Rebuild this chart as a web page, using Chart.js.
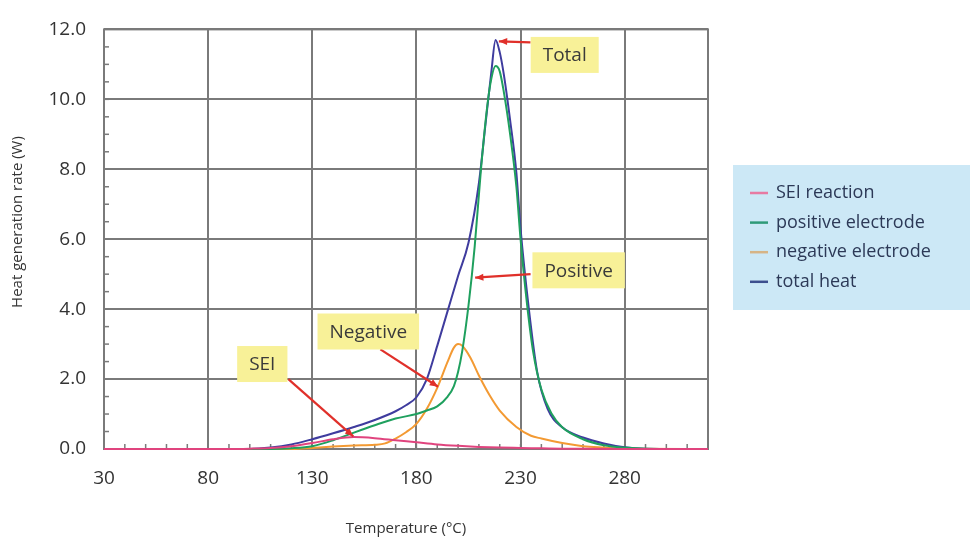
<!DOCTYPE html>
<html>
<head>
<meta charset="utf-8">
<script src="https://cdn.jsdelivr.net/npm/chart.js@4"></script>
<style>
  html, body { margin: 0; padding: 0; background: #fff; }
  #wrap { position: relative; width: 970px; height: 539px; }
</style>
</head>
<body>
<div id="wrap"><canvas id="myChart" width="970" height="539"></canvas></div>
<script>
// temperatures (°C) and heat generation rates (W)
const seiTemps = [30, 90, 100, 110, 120, 130, 140, 150, 160, 170, 180, 190, 200, 210, 220, 230, 240, 250, 260, 280, 320];
const seiHeat  = [0, 0, 0.01, 0.03, 0.08, 0.17, 0.28, 0.34, 0.31, 0.25, 0.19, 0.13, 0.09, 0.06, 0.04, 0.03, 0.02, 0.01, 0.005, 0, 0];

const posTemps = [30, 110, 120, 130, 140, 150, 160, 170, 180, 185, 190, 195, 198, 200, 202, 205, 208, 211, 214, 216, 218, 220, 222, 225, 228, 230, 233, 236, 240, 245, 250, 260, 270, 280, 290, 320];
const posHeat  = [0, 0, 0.02, 0.08, 0.25, 0.47, 0.68, 0.87, 1.0, 1.1, 1.22, 1.5, 1.8, 2.2, 2.8, 4.1, 5.8, 8.0, 9.8, 10.6, 10.95, 10.8, 10.2, 9.0, 7.5, 6.0, 4.2, 2.8, 1.7, 1.0, 0.62, 0.28, 0.11, 0.04, 0.01, 0];

const negTemps = [30, 120, 130, 140, 150, 160, 165, 170, 175, 180, 185, 190, 195, 198, 200, 202, 206, 210, 215, 220, 228, 235, 240, 250, 260, 270, 280, 320];
const negHeat  = [0, 0, 0.03, 0.07, 0.1, 0.12, 0.16, 0.3, 0.48, 0.72, 1.15, 1.75, 2.5, 2.9, 3.0, 2.95, 2.6, 2.1, 1.55, 1.1, 0.63, 0.38, 0.3, 0.17, 0.08, 0.04, 0.01, 0];

const totTemps = [30, 100, 110, 120, 130, 140, 150, 160, 170, 175, 180, 185, 190, 195, 200, 205, 210, 213, 216, 218, 220, 222, 225, 228, 230, 234, 238, 243, 250, 260, 270, 280, 290, 320];
const totHeat  = [0, 0, 0.04, 0.13, 0.28, 0.45, 0.63, 0.83, 1.08, 1.25, 1.48, 2.0, 2.95, 3.95, 4.95, 5.9, 7.6, 9.2, 10.8, 11.7, 11.35, 10.7, 9.4, 7.9, 6.3, 4.0, 2.2, 1.15, 0.62, 0.33, 0.16, 0.05, 0.01, 0];

const seriesNames = ['SEI reaction', 'positive electrode', 'negative electrode', 'total heat'];

// axis ticks
const xTickValues = [30, 80, 130, 180, 230, 280];
const yTickValues = [0, 2, 4, 6, 8, 10, 12];

// callouts: label, box centre (°C, W), arrow start and arrow tip (°C, W)
const calloutLabels = ['Total', 'Positive', 'Negative', 'SEI'];
const calloutBoxes  = [[251.2, 11.27], [257.9, 5.11], [156.9, 3.36], [106.0, 2.43]];
const calloutFrom   = [[234.8, 11.63], [234.8, 5.0], [162.7, 2.85], [118.5, 2.0]];
const calloutTo     = [[219.6, 11.66], [208.2, 4.9], [190.4, 1.78], [149.7, 0.36]];

const colors = ['#e0447e', '#1fa05e', '#f39a33', '#3f3c9e'];
const legendColors = ['#e77aa2', '#2f9a78', '#d6b486', '#3d4f8e'];

const toPoints = (xs, ys) => xs.map((x, i) => ({ x: x, y: ys[i] }));

const FONT = '"Open Sans", "DejaVu Sans", sans-serif';

const decorations = {
    id: 'decorations',
    beforeDatasetsDraw(chart) {
        const { ctx, chartArea: a, scales: { x, y } } = chart;
        ctx.save();
        ctx.strokeStyle = '#7a7a7a';
        ctx.lineWidth = 1.5;
        // minor ticks
        for (let t = 40; t < 320; t += 10) {
            const px = x.getPixelForValue(t);
            ctx.beginPath();
            ctx.moveTo(px, a.bottom);
            ctx.lineTo(px, a.bottom - 5);
            ctx.stroke();
        }
        for (let v = 0.5; v < 12; v += 0.5) {
            const py = y.getPixelForValue(v);
            ctx.beginPath();
            ctx.moveTo(a.left, py);
            ctx.lineTo(a.left + 5, py);
            ctx.stroke();
        }
        // frame
        ctx.lineWidth = 2;
        ctx.strokeRect(a.left, a.top, a.right - a.left, a.bottom - a.top);

        // y axis title
        ctx.translate(18, 222);
        ctx.rotate(-Math.PI / 2);
        ctx.font = '15px ' + FONT;
        ctx.fillStyle = '#333';
        ctx.textAlign = 'center';
        ctx.textBaseline = 'middle';
        ctx.fillText('Heat generation rate (W)', 0, 0);
        ctx.restore();
    },
    afterDraw(chart) {
        const { ctx, scales: { x, y } } = chart;
        ctx.save();

        // legend
        ctx.fillStyle = '#cce8f6';
        ctx.fillRect(733, 165, 237, 145);
        ctx.font = '18px ' + FONT;
        ctx.textBaseline = 'middle';
        ctx.textAlign = 'left';
        chart.data.datasets.forEach((ds, i) => {
            const yy = 193 + i * 29.6;
            ctx.strokeStyle = legendColors[i];
            ctx.lineWidth = 2.5;
            ctx.beginPath();
            ctx.moveTo(750, yy);
            ctx.lineTo(768, yy);
            ctx.stroke();
            ctx.fillStyle = '#2c3957';
            ctx.fillText(ds.label, 776, yy);
        });

        // callouts
        ctx.font = '19px ' + FONT;
        ctx.textAlign = 'center';
        calloutLabels.forEach((lab, i) => {
            const fx = x.getPixelForValue(calloutFrom[i][0]), fy = y.getPixelForValue(calloutFrom[i][1]);
            const tx = x.getPixelForValue(calloutTo[i][0]), ty = y.getPixelForValue(calloutTo[i][1]);
            ctx.strokeStyle = '#e0302a';
            ctx.fillStyle = '#e0302a';
            ctx.lineWidth = 2.2;
            ctx.beginPath();
            ctx.moveTo(fx, fy);
            ctx.lineTo(tx, ty);
            ctx.stroke();
            const ang = Math.atan2(ty - fy, tx - fx);
            ctx.beginPath();
            ctx.moveTo(tx, ty);
            ctx.lineTo(tx - 9 * Math.cos(ang - 0.4), ty - 9 * Math.sin(ang - 0.4));
            ctx.lineTo(tx - 9 * Math.cos(ang + 0.4), ty - 9 * Math.sin(ang + 0.4));
            ctx.closePath();
            ctx.fill();

            const cx = x.getPixelForValue(calloutBoxes[i][0]), cy = y.getPixelForValue(calloutBoxes[i][1]);
            const w = ctx.measureText(lab).width + 24;
            ctx.fillStyle = '#f8f198';
            ctx.fillRect(cx - w / 2, cy - 18, w, 36);
            ctx.fillStyle = '#3a3a3a';
            ctx.fillText(lab, cx, cy + 1);
        });
        ctx.restore();
    }
};

const ctx = document.getElementById('myChart').getContext('2d');

new Chart(ctx, {
    type: 'line',
    data: {
        datasets: [
            { label: seriesNames[0], data: toPoints(seiTemps, seiHeat), borderColor: colors[0] },
            { label: seriesNames[1], data: toPoints(posTemps, posHeat), borderColor: colors[1] },
            { label: seriesNames[2], data: toPoints(negTemps, negHeat), borderColor: colors[2] },
            { label: seriesNames[3], data: toPoints(totTemps, totHeat), borderColor: colors[3] }
        ]
    },
    options: {
        responsive: false,
        animation: false,
        layout: { padding: { top: 23, right: 262, left: 0, bottom: 0 } },
        elements: {
            point: { radius: 0 },
            line: { borderWidth: 2, cubicInterpolationMode: 'monotone', fill: false }
        },
        datasets: { line: { clip: 4 } },
        plugins: { legend: { display: false }, tooltip: { enabled: false } },
        scales: {
            x: {
                type: 'linear',
                min: 30,
                max: 320,
                afterFit: (s) => { s.height = 90; },
                afterBuildTicks: (s) => { s.ticks = xTickValues.map(v => ({ value: v })); },
                ticks: {
                    padding: 18,
                    color: '#333',
                    font: { family: FONT, size: 19 }
                },
                grid: { color: '#7a7a7a', lineWidth: 2, drawTicks: false },
                border: { display: false },
                title: {
                    display: true,
                    text: 'Temperature (°C)',
                    color: '#333',
                    font: { family: FONT, size: 15 },
                    padding: { top: 0, bottom: 1 }
                }
            },
            y: {
                min: 0,
                max: 12,
                afterFit: (s) => { s.width = 104; },
                afterBuildTicks: (s) => { s.ticks = yTickValues.map(v => ({ value: v })); },
                ticks: {
                    padding: 18,
                    color: '#333',
                    font: { family: FONT, size: 19 },
                    callback: (v) => v.toFixed(1)
                },
                grid: { color: '#7a7a7a', lineWidth: 2, drawTicks: false },
                border: { display: false }
            }
        }
    },
    plugins: [decorations]
});
</script>
</body>
</html>
